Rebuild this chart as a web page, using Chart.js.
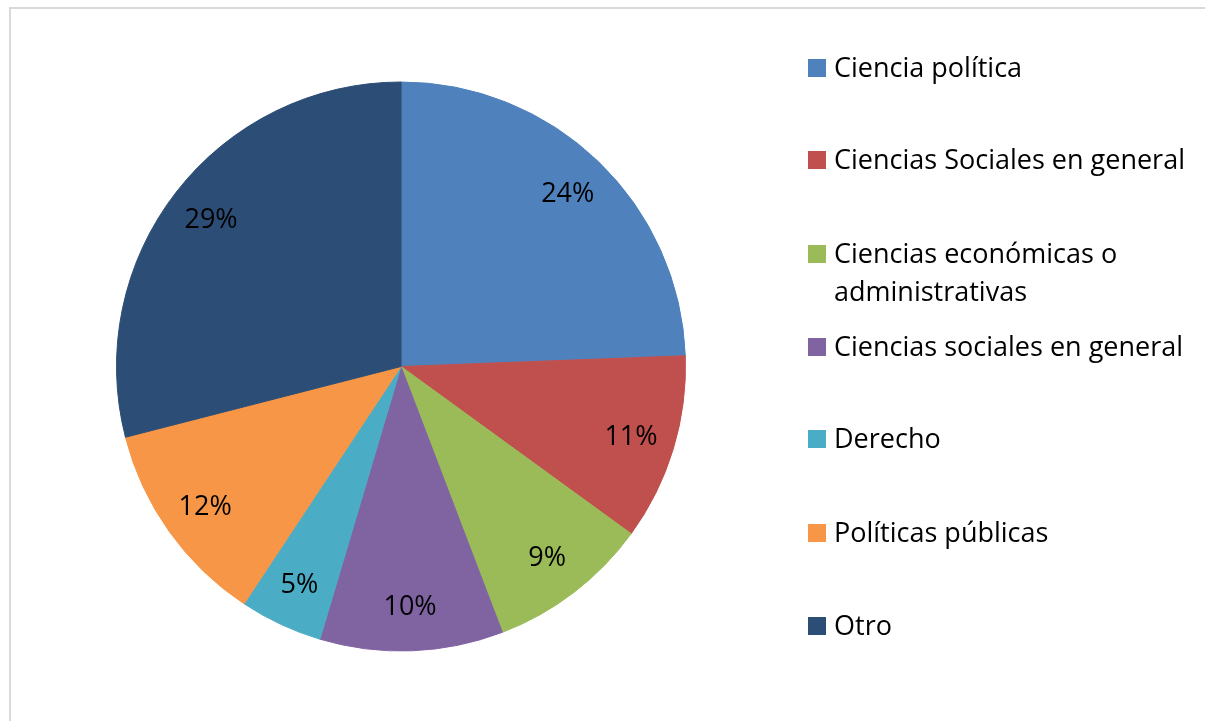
<!DOCTYPE html>
<html>
<head>
<meta charset="utf-8">
<script src="https://cdn.jsdelivr.net/npm/chart.js@4.4.1/dist/chart.umd.min.js"></script>
<style>
  html, body { margin: 0; padding: 0; background: #fff; }
  #wrap { position: relative; width: 1205px; height: 721px; overflow: hidden; }
  #frame { position: absolute; left: 9px; top: 7px; width: 1300px; height: 800px;
           border-left: 2px solid #d9d9d9; border-top: 2px solid #d9d9d9; }
  canvas { position: absolute; left: 0; top: 0; }
</style>
</head>
<body>
<div id="wrap">
  <div id="frame"></div>
  <canvas id="chart" width="1205" height="721"></canvas>
</div>
<script>
'use strict';

// categories (legend text, wrapped lines as arrays)
const categories = [
    ['Ciencia política'],
    ['Ciencias Sociales en general'],
    ['Ciencias económicas o', 'administrativas'],
    ['Ciencias sociales en general'],
    ['Derecho'],
    ['Políticas públicas'],
    ['Otro']
];
// slice sizes in percent
const shares = [24.4, 10.6, 9.2, 10.4, 4.7, 11.7, 29.0];
const sliceColors = ['#4F81BD', '#C0504D', '#9BBB59', '#8064A2', '#4BACC6', '#F79646', '#2C4D75'];

const FONT = '27px "Open Sans", Lato, sans-serif';

// percentage labels inside the slices
const sliceLabels = {
    id: 'sliceLabels',
    afterDatasetsDraw(chart) {
        const ctx = chart.ctx;
        const meta = chart.getDatasetMeta(0);
        const total = shares.reduce((a, b) => a + b, 0);
        ctx.save();
        ctx.font = FONT;
        ctx.fillStyle = '#000';
        ctx.textAlign = 'center';
        ctx.textBaseline = 'middle';
        meta.data.forEach((arc, i) => {
            const p = arc.getProps(['x', 'y', 'startAngle', 'endAngle', 'outerRadius'], true);
            const mid = (p.startAngle + p.endAngle) / 2;
            const r = p.outerRadius * 0.845;
            const pct = Math.round(shares[i] / total * 100);
            ctx.fillText(pct + '%', p.x + Math.cos(mid) * r, p.y + Math.sin(mid) * r + 1);
        });
        ctx.restore();
    }
};

// legend on the right, drawn by hand so long labels can wrap
const sideLegend = {
    id: 'sideLegend',
    afterDraw(chart) {
        const ctx = chart.ctx;
        const boxX = 808, textX = 834, box = 18;
        const rowY = [68, 160, 254, 347, 439, 533, 626];
        const lineGap = 38;
        ctx.save();
        ctx.font = FONT;
        ctx.textBaseline = 'middle';
        categories.forEach((lines, i) => {
            ctx.fillStyle = sliceColors[i];
            ctx.fillRect(boxX, rowY[i] - box / 2, box, box);
            ctx.fillStyle = '#000';
            lines.forEach((t, j) => ctx.fillText(t, textX, rowY[i] + j * lineGap + 1));
        });
        ctx.restore();
    }
};

new Chart(document.getElementById('chart'), {
    type: 'pie',
    data: {
        labels: categories.map(c => c.join(' ')),
        datasets: [{
            data: shares,
            backgroundColor: sliceColors,
            borderColor: sliceColors,
            borderWidth: 1
        }]
    },
    options: {
        responsive: false,
        animation: false,
        layout: { padding: { left: 116, right: 519, top: 81, bottom: 69 } },
        plugins: {
            legend: { display: false },
            tooltip: { enabled: false }
        }
    },
    plugins: [sliceLabels, sideLegend]
});
</script>
</body>
</html>
